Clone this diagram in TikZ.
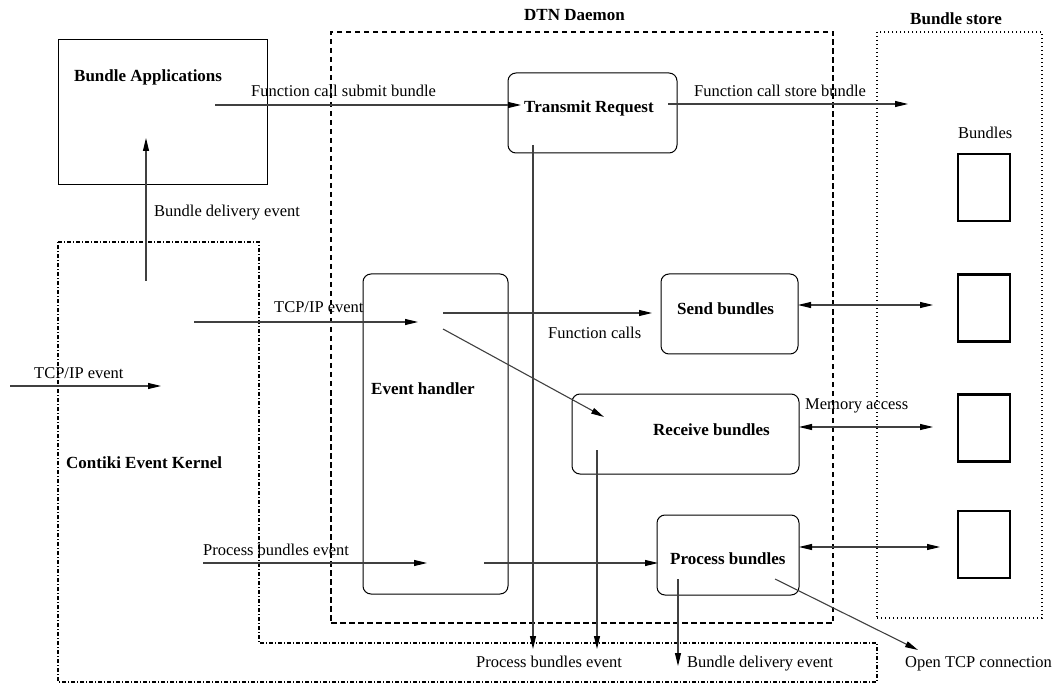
\documentclass[tikz,border=0pt]{standalone}
\usepackage{fontspec}
\setmainfont{Liberation Serif}
\usetikzlibrary{arrows.meta}
\begin{document}
\begin{tikzpicture}[x=1pt,y=-1pt,
  txt/.style={font=\fontsize{16.5}{19}\selectfont, inner sep=0pt, anchor=base west},
  btxt/.style={font=\fontsize{17}{19}\selectfont\bfseries, inner sep=0pt, anchor=base west},
  rbox/.style={draw, line width=1pt, rounded corners=8pt, inner sep=0pt},
  sbox/.style={draw, line width=1pt, inner sep=0pt},
  bun/.style={draw, line width=2.6pt, inner sep=0pt, minimum width=52pt, minimum height=67pt},
  tip/.style={},
  conn/.style={draw=black!75, line width=1.1pt, -{Triangle[length=13pt,width=6pt,color=black]}},
  dconn/.style={draw=black!75, line width=1.1pt, {Triangle[length=13pt,width=6pt,color=black]}-{Triangle[length=13pt,width=6pt,color=black]}},
  dtnline/.style={draw, line width=1.1pt, dash pattern=on 5.5pt off 3.5pt},
  storeline/.style={draw, line width=1.1pt, dash pattern=on 1pt off 3pt},
  kernline/.style={draw, line width=1.1pt, dash pattern=on 4pt off 2pt on 1pt off 2pt},
]
\useasboundingbox (0,0) rectangle (1057,684);

% containers
\node[dtnline, inner sep=0pt, minimum width=502pt, minimum height=591pt] (dtn) at (582,327.5) {};
\node[storeline, inner sep=0pt, minimum width=165pt, minimum height=586pt] (store) at (959.5,325) {};
\draw[kernline] (58,242) -- (259,242) -- (259,643) -- (877,643) -- (877,682) -- (58,682) -- cycle;

% boxes
\node[sbox, minimum width=209pt, minimum height=145pt] (apps) at (162.5,112.5) {};
\node[rbox, minimum width=169pt, minimum height=80pt] (tr) at (592.5,113) {};
\node[rbox, minimum width=145pt, minimum height=320pt] (eh) at (435.5,434) {};
\node[rbox, minimum width=137pt, minimum height=80pt] (sb) at (729.5,314) {};
\node[rbox, minimum width=227pt, minimum height=80pt] (rb) at (685.5,434) {};
\node[rbox, minimum width=142pt, minimum height=80pt] (pb) at (728,555) {};

% bundles
\node[bun] (b1) at (984,187.5) {};
\node[bun] (b2) at (984,308) {};
\node[bun] (b3) at (984,428) {};
\node[bun] (b4) at (984,544.5) {};

% labels
\node[btxt] (lapps) at (74,82) {Bundle Applications};
\node[txt] (lsubmit) at (251,97) {Function call submit bundle};
\node[txt] (lstore) at (694,97) {Function call store bundle};
\node[btxt] (ldtn) at (524,21) {DTN Daemon};
\node[btxt] (lbs) at (910,25) {Bundle store};
\node[btxt] (ltr) at (524,113) {Transmit Request};
\node[txt] (lbundles) at (958,139) {Bundles};
\node[txt] (ldeliv) at (154,217) {Bundle delivery event};
\node[txt] (ltcp1) at (274,313) {TCP/IP event};
\node[txt] (ltcp2) at (34,378) {TCP/IP event};
\node[btxt] (lsb) at (677,315) {Send bundles};
\node[txt] (lfc) at (548,338) {Function calls};
\node[btxt] (leh) at (371,394) {Event handler};
\node[txt] (lmem) at (805,409) {Memory access};
\node[btxt] (lrb) at (653,435) {Receive bundles};
\node[btxt] (lker) at (66,468) {Contiki Event Kernel};
\node[txt] (lpbe1) at (203,555) {Process bundles event};
\node[btxt] (lpb) at (670,564) {Process bundles};
\node[txt] (lpbe2) at (476,667) {Process bundles event};
\node[txt] (ldeliv2) at (687,667) {Bundle delivery event};
\node[txt] (lopen) at (905,667) {Open TCP connection};

% connector end points
\coordinate (s1) at (215,105);   \coordinate (e1) at (521,105);
\coordinate (s2) at (668,104);   \coordinate (e2) at (908,104);
\coordinate (s3) at (146,281);   \coordinate (e3) at (146,138);
\coordinate (s4) at (10,386);    \coordinate (e4) at (161,386);
\coordinate (s5) at (194,322);   \coordinate (e5) at (418,322);
\coordinate (s6) at (443,313);   \coordinate (e6) at (652,313);
\coordinate (s7) at (443,329);   \coordinate (e7) at (604,417);
\coordinate (s8) at (203,563);   \coordinate (e8) at (427,563);
\coordinate (s9) at (484,563);   \coordinate (e9) at (658,563);
\coordinate (s10) at (533,145);  \coordinate (e10) at (533,649);
\coordinate (s11) at (597,450);  \coordinate (e11) at (597,649);
\coordinate (s12) at (678,579);  \coordinate (e12) at (678,666);
\coordinate (s13) at (775,579);  \coordinate (e13) at (918,650);
\coordinate (m1a) at (798,305);  \coordinate (m1b) at (933,305);
\coordinate (m2a) at (799,427);  \coordinate (m2b) at (933,427);
\coordinate (m3a) at (799,547);  \coordinate (m3b) at (940,547);

% connectors
\draw[conn] (s1) -- (e1);
\draw[conn] (s2) -- (e2);
\draw[conn] (s3) -- (e3);
\draw[conn] (s4) -- (e4);
\draw[conn] (s5) -- (e5);
\draw[conn] (s6) -- (e6);
\draw[conn] (s7) -- (e7);
\draw[conn] (s8) -- (e8);
\draw[conn] (s9) -- (e9);
\draw[conn] (s10) -- (e10);
\draw[conn] (s11) -- (e11);
\draw[conn] (s12) -- (e12);
\draw[conn] (s13) -- (e13);
\draw[dconn] (m1a) -- (m1b);
\draw[dconn] (m2a) -- (m2b);
\draw[dconn] (m3a) -- (m3b);
\end{tikzpicture}
\end{document}
